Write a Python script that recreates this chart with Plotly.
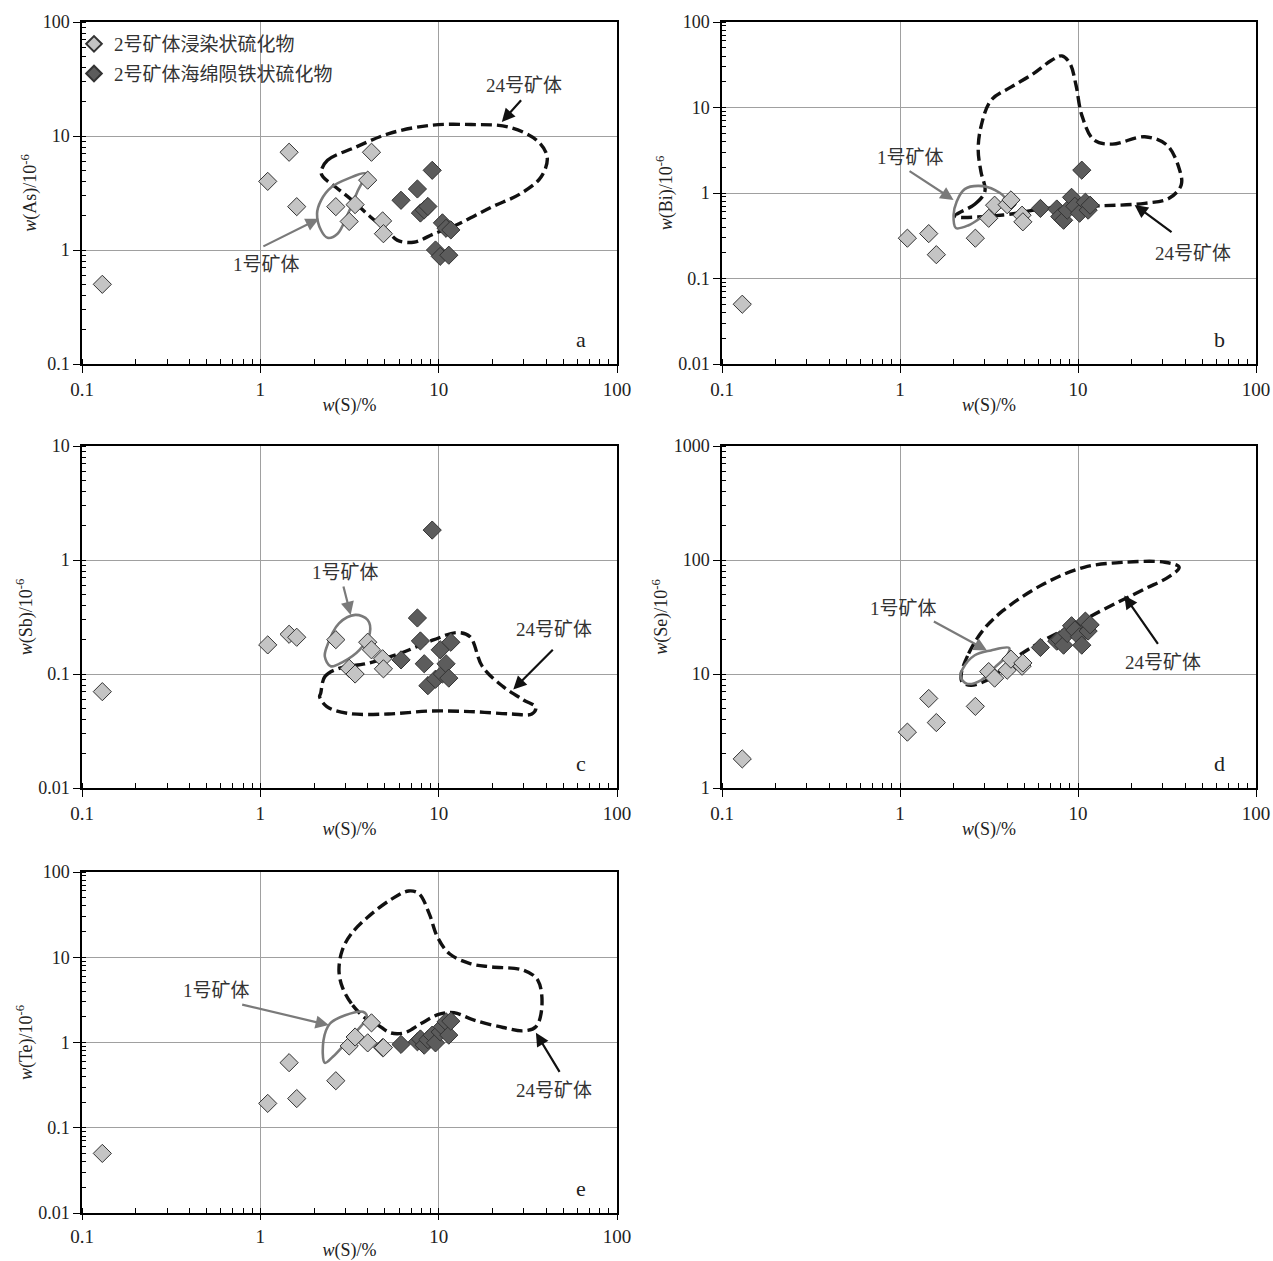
import numpy as np
import plotly.graph_objects as go

# ---------------- data ----------------
S_light = [0.13, 1.1, 1.45, 1.6, 2.65, 3.15, 3.4, 4.0, 4.2, 4.85, 4.9]
S_dark = [6.15, 7.6, 7.9, 8.3, 8.7, 9.2, 9.6, 10.2, 10.5, 11.0, 11.4, 11.7]

As_light = [0.5, 4.0, 7.2, 2.4, 2.4, 1.78, 2.5, 4.1, 7.2, 1.8, 1.39]
As_dark = [2.73, 3.43, 2.11, 2.25, 2.41, 5.0, 1.0, 0.88, 1.73, 1.55, 0.9, 1.5]

Bi_light = [0.05, 0.296, 0.335, 0.19, 0.296, 0.506, 0.72, 0.73, 0.83, 0.55, 0.46]
Bi_dark = [0.66, 0.65, 0.53, 0.48, 0.63, 0.89, 0.7, 0.58, 1.85, 0.78, 0.63, 0.72]

Sb_light = [0.07, 0.18, 0.223, 0.21, 0.2, 0.112, 0.1, 0.19, 0.163, 0.136, 0.111]
Sb_dark = [0.133, 0.31, 0.195, 0.123, 0.079, 1.83, 0.09, 0.163, 0.1, 0.123, 0.092, 0.19]

Se_light = [1.8, 3.09, 6.1, 3.75, 5.2, 10.5, 9.2, 10.8, 13.5, 11.7, 12.5]
Se_dark = [17.1, 19.4, 20.0, 17.9, 22.7, 26.5, 24.3, 21.2, 17.9, 29.1, 23.8, 27.0]

Te_light = [0.05, 0.193, 0.58, 0.22, 0.356, 0.91, 1.16, 0.99, 1.7, 0.87, 0.87]
Te_dark = [0.95, 1.02, 1.1, 0.93, 1.08, 1.22, 0.99, 1.33, 1.53, 1.75, 1.22, 1.78]

# outlines of ore body No.1 (solid) and No.24 (dashed)
a_ore1_S = [3.89, 3.10, 2.51, 2.19, 2.08, 2.19, 2.38, 2.71, 3.10, 3.53]
a_ore1_As = [4.68, 4.23, 3.57, 2.73, 2.08, 1.49, 1.28, 1.39, 2.08, 3.34]
a_ore24_S = [2.19, 2.38, 3.44, 5.26, 8.95, 15.2, 24.5, 35.5, 40.6, 37.5, 28.8, 19.8,
             13.0, 9.44, 7.23, 5.85, 5.13, 4.15, 3.27, 2.64, 2.25]
a_ore24_As = [4.83, 6.12, 8.0, 10.5, 12.4, 12.6, 12.0, 9.16, 6.54, 4.37, 3.12, 2.38,
              1.70, 1.39, 1.17, 1.22, 1.49, 1.95, 2.73, 3.57, 4.37]

b_ore1_S = [2.08, 2.31, 2.77, 3.42, 3.90, 3.61, 3.0, 2.43, 2.06, 2.0]
b_ore1_Bi = [0.792, 1.11, 1.21, 1.08, 0.85, 0.69, 0.553, 0.42, 0.39, 0.553]
b_ore24_S = [2.06, 2.63, 3.0, 2.85, 2.75, 2.85, 3.25, 4.22, 5.62, 7.11, 8.11, 9.01, 9.75,
             10.5, 12.3, 15.6, 23.7, 31.6, 37.0, 38.0, 32.5, 23.7, 14.1, 8.32, 5.77, 3.80, 2.06]
b_ore24_Bi = [0.553, 0.738, 1.05, 1.77, 3.18, 5.95, 12.2, 17.4, 24.9, 35.7, 40.1, 32.7, 18.2,
              8.15, 4.16, 3.73, 4.55, 3.63, 1.94, 1.24, 0.867, 0.757, 0.711, 0.692, 0.634, 0.553, 0.53]

c_ore1_S = [2.36, 2.76, 3.41, 4.0, 4.11, 3.60, 2.91, 2.48, 2.30]
c_ore1_Sb = [0.174, 0.278, 0.33, 0.298, 0.228, 0.163, 0.128, 0.117, 0.142]
c_ore24_S = [2.18, 2.30, 2.76, 4.0, 6.11, 9.33, 12.8, 15.0, 17.6, 23.0, 29.9, 35.1, 33.3,
             25.5, 15.0, 8.85, 5.21, 3.07, 2.36, 2.15]
c_ore24_Sb = [0.0676, 0.0948, 0.112, 0.124, 0.152, 0.199, 0.231, 0.212, 0.116, 0.0775, 0.0592,
              0.051, 0.0446, 0.0446, 0.0468, 0.0473, 0.0446, 0.0452, 0.0517, 0.0633]

d_ore1_S = [2.25, 2.63, 3.24, 4.11, 4.0, 3.42, 2.85, 2.37, 2.19]
d_ore1_Se = [11.1, 14.6, 16.1, 16.9, 14.6, 11.5, 8.81, 8.22, 9.43]
d_ore24_S = [2.21, 2.43, 2.92, 3.80, 6.41, 10.8, 18.2, 30.8, 37.0, 32.5, 23.7, 14.1, 9.75,
             6.41, 4.68, 3.80, 3.08, 2.50, 2.23]
d_ore24_Se = [10.1, 15.1, 24.1, 36.1, 61.6, 86.3, 95.5, 95.5, 86.3, 71.5, 55.7, 37.2, 27.5,
              19.7, 14.6, 11.1, 8.81, 7.96, 8.51]

e_ore1_S = [2.30, 2.26, 2.46, 2.99, 3.76, 3.96, 3.51, 2.99, 2.55]
e_ore1_Te = [0.578, 1.06, 1.67, 2.09, 2.29, 2.0, 1.40, 0.97, 0.68]
e_ore24_S = [3.90, 3.24, 2.88, 2.76, 2.88, 3.24, 4.11, 5.50, 6.79, 7.76, 8.85, 9.84, 11.5,
             15.0, 19.6, 29.9, 36.0, 37.9, 35.1, 29.9, 23.0, 15.8, 12.2, 10.1, 7.96, 6.44,
             5.36, 4.57]
e_ore24_Te = [1.91, 2.86, 4.49, 7.05, 12.1, 18.9, 31.0, 48.7, 59.9, 55.7, 32.5, 17.3, 11.0,
              8.44, 7.71, 7.05, 5.37, 2.62, 1.53, 1.37, 1.50, 1.83, 2.23, 2.15, 1.67, 1.30,
              1.30, 1.60]

x_tickvals = [0.1, 1, 10, 100]
x_ticktext = ["0.1", "1", "10", "100"]

legend_light = "2号矿体浸染状硫化物"
legend_dark = "2号矿体海绵陨铁状硫化物"
label_ore1 = "1号矿体"
label_ore24 = "24号矿体"

# ---------------- style ----------------
FONT = "Liberation Serif, Times New Roman, Noto Sans CJK SC, serif"
LIGHT_FILL = "#c4c4c4"
DARK_FILL = "#5c5c5c"
EDGE = "#333333"
ORE1_COLOR = "#7a7a7a"
ORE24_COLOR = "#111111"
W, H = 1273, 1261

XL = [82 / W, 617 / W]
XR = [722 / W, 1256 / W]
R1 = [1 - 364 / H, 1 - 22 / H]
R2 = [1 - 788 / H, 1 - 446 / H]
R3 = [1 - 1213 / H, 1 - 872 / H]

panels = [
    dict(k="", xd=XL, yd=R1, yl=As_light, yk=As_dark, yr=[0.1, 100], ytitle="<i>w</i>(As)/10<sup>-6</sup>",
         o1=(a_ore1_S, a_ore1_As), o24=(a_ore24_S, a_ore24_As), letter="a",
         a1=dict(lab=(1.08, 0.74), tail=(1.02, 1.06), head=(2.13, 1.88)),
         a24=dict(lab=(30.0, 28.0), tail=(29.5, 21.2), head=(22.6, 13.3))),
    dict(k="2", xd=XR, yd=R1, yl=Bi_light, yk=Bi_dark, yr=[0.01, 100], ytitle="<i>w</i>(Bi)/10<sup>-6</sup>",
         o1=(b_ore1_S, b_ore1_Bi), o24=(b_ore24_S, b_ore24_Bi), letter="b",
         a1=dict(lab=(1.14, 2.6), tail=(1.11, 1.85), head=(2.0, 0.83)),
         a24=dict(lab=(44.4, 0.198), tail=(34.2, 0.338), head=(20.8, 0.725))),
    dict(k="3", xd=XL, yd=R2, yl=Sb_light, yk=Sb_dark, yr=[0.01, 10], ytitle="<i>w</i>(Sb)/10<sup>-6</sup>",
         o1=(c_ore1_S, c_ore1_Sb), o24=(c_ore24_S, c_ore24_Sb), letter="c",
         a1=dict(lab=(2.99, 0.77), tail=(2.91, 0.604), head=(3.21, 0.33)),
         a24=dict(lab=(44.5, 0.245), tail=(44.5, 0.168), head=(26.2, 0.0733))),
    dict(k="4", xd=XR, yd=R2, yl=Se_light, yk=Se_dark, yr=[1, 1000], ytitle="<i>w</i>(Se)/10<sup>-6</sup>",
         o1=(d_ore1_S, d_ore1_Se), o24=(d_ore24_S, d_ore24_Se), letter="d",
         a1=dict(lab=(1.05, 37.2), tail=(1.52, 29.4), head=(3.08, 16.1)),
         a24=dict(lab=(30.0, 12.7), tail=(28.5, 17.8), head=(18.2, 48.8))),
    dict(k="5", xd=XL, yd=R3, yl=Te_light, yk=Te_dark, yr=[0.01, 100], ytitle="<i>w</i>(Te)/10<sup>-6</sup>",
         o1=(e_ore1_S, e_ore1_Te), o24=(e_ore24_S, e_ore24_Te), letter="e",
         a1=dict(lab=(0.565, 4.1), tail=(0.776, 2.81), head=(2.42, 1.60)),
         a24=dict(lab=(44.5, 0.276), tail=(48.2, 0.434), head=(35.1, 1.30))),
]


def L(v):
    return float(np.log10(v))


def closed(a):
    return list(a) + [a[0]]


fig = go.Figure()
annotations = []
layout = {}

for i, p in enumerate(panels):
    xa = "x" + p["k"]
    ya = "y" + p["k"]
    xkey = "xaxis" + p["k"]
    ykey = "yaxis" + p["k"]
    first = i == 0

    # outlines
    fig.add_trace(go.Scatter(x=closed(p["o24"][0]), y=closed(p["o24"][1]), mode="lines",
                             line=dict(color=ORE24_COLOR, width=3.4, dash="11px,5px", shape="spline", smoothing=1.0),
                             xaxis=xa, yaxis=ya, showlegend=False, hoverinfo="skip"))
    fig.add_trace(go.Scatter(x=closed(p["o1"][0]), y=closed(p["o1"][1]), mode="lines",
                             line=dict(color=ORE1_COLOR, width=2.6, shape="spline", smoothing=1.0),
                             xaxis=xa, yaxis=ya, showlegend=False, hoverinfo="skip"))
    # points
    fig.add_trace(go.Scatter(x=S_light, y=p["yl"], mode="markers", name=legend_light,
                             marker=dict(symbol="diamond", size=14, color=LIGHT_FILL, line=dict(color=EDGE, width=1)),
                             xaxis=xa, yaxis=ya, showlegend=first, legendgroup="l"))
    fig.add_trace(go.Scatter(x=S_dark, y=p["yk"], mode="markers", name=legend_dark,
                             marker=dict(symbol="diamond", size=14, color=DARK_FILL, line=dict(color=EDGE, width=1)),
                             xaxis=xa, yaxis=ya, showlegend=first, legendgroup="d"))

    y0, y1 = p["yr"]
    ytv = [10 ** e for e in range(int(round(L(y0))), int(round(L(y1))) + 1)]
    ytt = [("%g" % v) for v in ytv]
    bottom = p["letter"] == "e"
    layout[xkey] = dict(type="log", domain=p["xd"], range=[L(0.1), L(100)], anchor=ya, automargin=False,
                        tickvals=x_tickvals, ticktext=x_ticktext, ticks="outside", ticklen=5 if bottom else 7,
                        tickcolor="black", showline=True, linecolor="black", linewidth=1.5, mirror=True,
                        showgrid=True, gridcolor="#a0a0a0", gridwidth=1, zeroline=False,
                        minor=dict(ticks="inside", ticklen=5, tickcolor="black", dtick="D1", showgrid=False),
                        tickfont=dict(family=FONT, size=19, color="#222"),
                        title=dict(text="<i>w</i>(S)/%", font=dict(family=FONT, size=18, color="#222"), standoff=0))
    layout[ykey] = dict(type="log", domain=p["yd"], range=[L(y0), L(y1)], anchor=xa, automargin=False,
                        tickvals=ytv, ticktext=ytt, ticks="outside", ticklen=7,
                        tickcolor="black", showline=True, linecolor="black", linewidth=1.5, mirror=True,
                        showgrid=True, gridcolor="#a0a0a0", gridwidth=1, zeroline=False,
                        minor=dict(ticks="inside", ticklen=4, tickcolor="black", dtick="D1", showgrid=False),
                        tickfont=dict(family=FONT, size=18, color="#222"),
                        title=dict(text=p["ytitle"], font=dict(family=FONT, size=18, color="#222"), standoff=1))

    # arrows and labels
    for key, col in (("a1", ORE1_COLOR), ("a24", ORE24_COLOR)):
        a = p[key]
        annotations.append(dict(x=L(a["head"][0]), y=L(a["head"][1]), ax=L(a["tail"][0]), ay=L(a["tail"][1]),
                                xref=xa, yref=ya, axref=xa, ayref=ya, text="", showarrow=True,
                                arrowhead=2, arrowsize=1.2, arrowwidth=2.2, arrowcolor=col))
        annotations.append(dict(x=L(a["lab"][0]), y=L(a["lab"][1]), xref=xa, yref=ya,
                                text=label_ore1 if key == "a1" else label_ore24, showarrow=False,
                                font=dict(family=FONT, size=19, color="#333")))
    annotations.append(dict(x=0.945, y=0.03, xref=xa + " domain", yref=ya + " domain", text=p["letter"],
                            showarrow=False, font=dict(family=FONT, size=22, color="#222")))

fig.update_layout(**layout)
fig.update_layout(
    template="none",
    width=W, height=H,
    margin=dict(l=0, r=0, t=0, b=0, autoexpand=False),
    paper_bgcolor="white", plot_bgcolor="white",
    annotations=annotations,
    legend=dict(x=74 / W, y=1 - 25 / H, xanchor="left", yanchor="top", bgcolor="rgba(255,255,255,0)",
                font=dict(family=FONT, size=19, color="#333"), itemsizing="constant", tracegroupgap=2),
    showlegend=True,
)

fig.write_html("out.html", config={"displayModeBar": False},
               post_script="document.body.style.margin='0px';document.body.style.overflow='hidden';")
